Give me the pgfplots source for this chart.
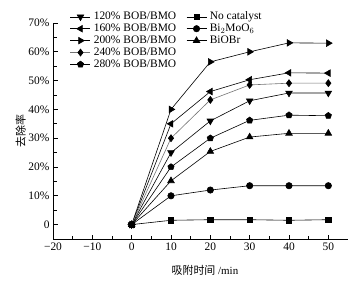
\documentclass[border=0pt]{standalone}
\usepackage{fontspec}
\setmainfont{Liberation Serif}
\newfontfamily\cjk{Noto Sans CJK SC}
\usepackage{pgfplots}
\pgfplotsset{compat=1.18}
\begin{document}
\begin{tikzpicture}
\useasboundingbox (-53bp,-44bp) rectangle (303bp,239bp);
\begin{axis}[
  at={(0,0)}, anchor=south west,
  scale only axis, width=295bp, height=216bp,
  xmin=-20, xmax=55, ymin=-5, ymax=70,
  axis x line*=bottom, axis y line*=left,
  axis line style={line width=0.9bp, -},
  xtick={-20,-10,0,10,20,30,40,50},
  xticklabels={−20,−10,0,10,20,30,40,50},
  ytick={0,10,20,30,40,50,60,70},
  yticklabels={0,10\%,20\%,30\%,40\%,50\%,60\%,70\%},
  minor x tick num=1, minor y tick num=1,
  tick align=inside,
  major tick length=4.5bp, minor tick length=3.5bp,
  every tick/.style={black, line width=0.8bp},
  tick label style={font=\fontsize{11.5}{13}\selectfont},
  /pgf/number format/assume math mode=true,
  xlabel={{\cjk 吸附时间} /min},
  ylabel={\cjk 去除率},
  label style={font=\fontsize{11}{13}\selectfont},
  xlabel style={at={(axis description cs:0.515,-0.145)}, anchor=center},
  ylabel style={at={(axis description cs:-0.11,0.5)}, anchor=center},
  legend style={at={(axis description cs:0.0576,1.055)}, anchor=north west, draw=none, fill=none,
    font=\fontsize{11.5}{11.5}\selectfont, row sep=0.9bp, inner sep=0pt,
    nodes={inner sep=0pt, text height=8.5bp, text depth=2.5bp},
    /tikz/every odd column/.append style={column sep=3bp},
    /tikz/every even column/.append style={column sep=10bp}},
  legend cell align=left,
  legend columns=2,
  legend image code/.code={\draw[mark repeat=2,mark phase=2] plot coordinates {(0bp,0bp) (10bp,0bp) (20bp,0bp)};},
  every axis plot/.append style={line width=0.6bp, mark size=3.2bp},
]
\addplot[black, mark=triangle*, mark size=3.8bp, mark options={rotate=180, solid}] coordinates {(0,0) (10,25) (20,36) (30,43) (40,45.7) (50,45.7)};
\addlegendentry{120\% BOB/BMO}
\addplot[black, mark=square*, mark size=2.7bp] coordinates {(0,0) (10,1.5) (20,1.7) (30,1.7) (40,1.5) (50,1.7)};
\addlegendentry{No catalyst}
\addplot[black, mark=triangle*, mark size=3.8bp, mark options={rotate=90}] coordinates {(0,0) (10,35) (20,46.2) (30,50.3) (40,52.7) (50,52.6)};
\addlegendentry{160\% BOB/BMO}
\addplot[black, mark=*, mark size=3.2bp] coordinates {(0,0) (10,10) (20,12) (30,13.5) (40,13.5) (50,13.5)};
\addlegendentry{Bi$_2$MoO$_6$}
\addplot[black, mark=triangle*, mark size=3.8bp, mark options={rotate=-90}] coordinates {(0,0) (10,40) (20,56.5) (30,60) (40,63.1) (50,63)};
\addlegendentry{200\% BOB/BMO}
\addplot[black, mark=triangle*, mark size=3.8bp] coordinates {(0,0) (10,15.2) (20,25.4) (30,30.4) (40,31.7) (50,31.7)};
\addlegendentry{BiOBr}
\addplot[black!55, mark=diamond*, mark size=3.5bp, mark options={black}] coordinates {(0,0) (10,30) (20,43.3) (30,48.5) (40,49.1) (50,49.1)};
\addlegendentry{240\% BOB/BMO}
\addlegendimage{empty legend}
\addlegendentry{}
\addplot[black, mark=pentagon*, mark size=3.3bp] coordinates {(0,0) (10,20) (20,30) (30,36.2) (40,38) (50,37.8)};
\addlegendentry{280\% BOB/BMO}
\end{axis}
\end{tikzpicture}
\end{document}
